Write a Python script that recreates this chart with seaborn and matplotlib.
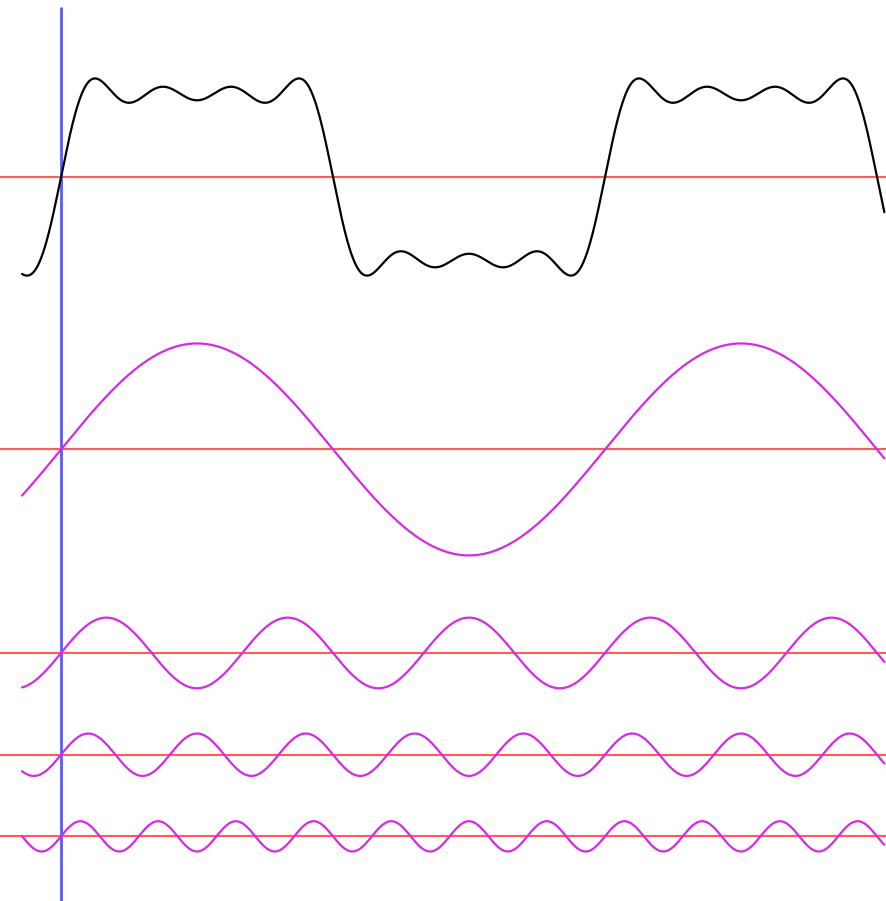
import numpy as np
import pandas as pd
import matplotlib.pyplot as plt
import seaborn as sns

sns.set_style("white")

# Fourier series of a square wave: odd harmonics with amplitude 1/n
harmonics = [1, 3, 5, 7]
amplitudes = [1.0, 1 / 3, 1 / 5, 1 / 7]
# vertical baseline of each row (in units of the fundamental amplitude, top = 0)
baseline_sum = -1.67
baselines = [-4.24, -6.16, -7.12, -7.89]

# phase range shown (radians)
x_start, x_end = -0.45, 9.51
x = np.linspace(x_start, x_end, 2000)

rows = []
total = np.zeros_like(x)
for n, a, b in zip(harmonics, amplitudes, baselines):
    y = a * np.sin(n * x)
    total += y
    rows.append(pd.DataFrame({"x": x, "y": y + b, "curve": f"h{n}"}))
sum_df = pd.DataFrame({"x": x, "y": total + baseline_sum, "curve": "sum"})
harm_df = pd.concat(rows, ignore_index=True)

fig = plt.figure(figsize=(8.87, 9.01), dpi=100)
ax = fig.add_axes([0, 0, 1, 1])

# red zero lines
for b in [baseline_sum] + baselines:
    ax.axhline(b, color="#ff5a5a", lw=1.5, zorder=1)
# blue phase-zero line
ax.plot([0, 0], [-0.075, -8.6], color="#5a5aff", lw=2, zorder=1)

sns.lineplot(data=sum_df, x="x", y="y", color="black", lw=1.6,
             ax=ax, legend=False, zorder=3, sort=False)
sns.lineplot(data=harm_df, x="x", y="y", units="curve", estimator=None,
             color="#d42ae4", lw=1.6, ax=ax, legend=False, zorder=3, sort=False)

ax.set_xlim(-61 / 86.58, 826 / 86.58)
ax.set_ylim(-901 / 106, 0)
ax.axis("off")

plt.savefig("out.png", dpi=100)
plt.close()
